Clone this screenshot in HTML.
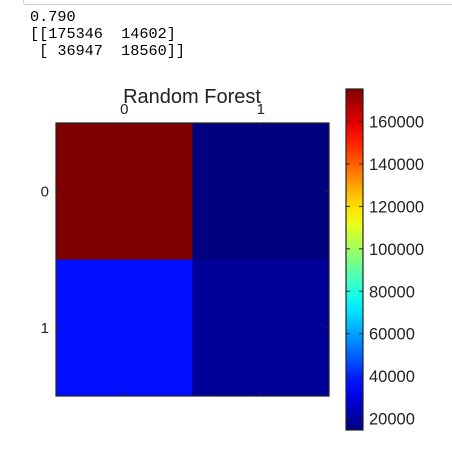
<!DOCTYPE html>
<html><head><meta charset="utf-8"><style>
body{margin:0;width:452px;height:449px;background:#fff;overflow:hidden;position:relative}
.box{position:absolute;left:23px;top:-10px;width:440px;height:13px;border:1px solid #ccc;border-radius:3px}
pre{position:absolute;left:30px;top:9px;margin:0;font-family:"Liberation Mono",monospace;font-size:15.2px;line-height:17px;color:#000}
</style></head><body>
<div class="box"></div>
<pre>0.790
[[175346  14602]
 [ 36947  18560]]</pre>
<svg id="c" width="452" height="449" style="position:absolute;left:0;top:0"></svg>
<script>
const rowsLabels=["0","1"];
const colLabels=["0","1"];
const row0=[175346,14602];
const row1=[36947,18560];
const cbTicks=[20000,40000,60000,80000,100000,120000,140000,160000];
const NS="http://www.w3.org/2000/svg";
const svg=document.getElementById('c');
function mk(t,a,p){const e=document.createElementNS(NS,t);for(const k in a)e.setAttribute(k,a[k]);(p||svg).appendChild(e);return e;}
const mat=[row0,row1];
const all=row0.concat(row1);
const vmin=Math.min(...all),vmax=Math.max(...all);
function jet(x){const c=v=>Math.round(255*Math.max(0,Math.min(1,v)));return `rgb(${c(1.5-Math.abs(4*x-3))},${c(1.5-Math.abs(4*x-2))},${c(1.5-Math.abs(4*x-1))})`;}
const L=56,T=123,R=329,B=396;
const xs=i=>L+(i+0.5)*(R-L)/2, ys=i=>T+(i+0.5)*(B-T)/2;
const cw=(R-L)/2,ch=(B-T)/2;
for(let r=0;r<2;r++)for(let c=0;c<2;c++){
 const e=mk('rect',{x:xs(c)-cw/2,y:ys(r)-ch/2,width:cw,height:ch,fill:jet((mat[r][c]-vmin)/(vmax-vmin))});
 
 
}
mk('rect',{x:L,y:T,width:R-L,height:B-T,fill:'none',stroke:'#222','stroke-width':1.2});
const tf='font-family:"Liberation Sans",sans-serif;font-size:15px;fill:#222';
colLabels.forEach((l,i)=>{
 mk('line',{x1:xs(i),x2:xs(i),y1:T,y2:T+4,stroke:'#222'});
 mk('line',{x1:xs(i),x2:xs(i),y1:B,y2:B-4,stroke:'#222'});
 const t=mk('text',{x:xs(i),y:T-9,'text-anchor':'middle',style:tf});t.textContent=l;
 
 
});
rowsLabels.forEach((l,i)=>{
 mk('line',{x1:L,x2:L+4,y1:ys(i),y2:ys(i),stroke:'#222'});
 mk('line',{x1:R,x2:R-4,y1:ys(i),y2:ys(i),stroke:'#222'});
 const t=mk('text',{x:L-7,y:ys(i)+5,'text-anchor':'end',style:tf});t.textContent=l;
 
 
});
const ti=mk('text',{x:192,y:103,'text-anchor':'middle',style:'font-family:"Liberation Sans",sans-serif;font-size:20px;fill:#222'});ti.textContent='Random Forest';


const CL=346,CR=363,CT=89,CB=430;
const cy=v=>CB-(v-vmin)/(vmax-vmin)*(CB-CT);
const defs=mk('defs',{});
const g=mk('linearGradient',{id:'jg',x1:0,y1:1,x2:0,y2:0},defs);
for(let i=0;i<=20;i++)mk('stop',{offset:i/20,'stop-color':jet(i/20)},g);
const cb=mk('rect',{x:CL,y:CT,width:CR-CL,height:CB-CT,fill:'url(#jg)',stroke:'#222','stroke-width':1.2});


cbTicks.forEach(v=>{
 const y=cy(v);
 mk('line',{x1:CR-4,x2:CR,y1:y,y2:y,stroke:'#222'});
 mk('line',{x1:CL,x2:CL+4,y1:y,y2:y,stroke:'#222'});
 const t=mk('text',{x:CR+6,y:y+6,style:'font-family:"Liberation Sans",sans-serif;font-size:16.5px;fill:#222'});t.textContent=v;
 
 
});
</script>
</body></html>
